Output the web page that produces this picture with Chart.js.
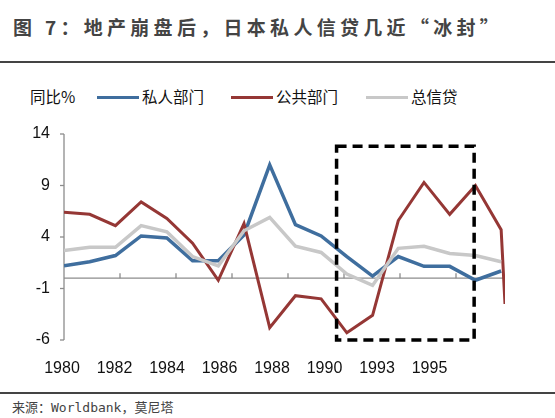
<!DOCTYPE html>
<html><head><meta charset="utf-8">
<script src="https://cdn.jsdelivr.net/npm/chart.js@4.4.0/dist/chart.umd.min.js"></script>
<style>
body{margin:0;width:555px;height:418px;position:relative;background:#fff;font-family:"Noto Sans CJK SC",sans-serif;overflow:hidden}
#t{position:absolute;left:13px;top:13px;font-size:19px;font-weight:bold;color:#444;letter-spacing:4.3px;white-space:nowrap}
.hl{position:absolute;left:0;width:555px;height:2px;background:#444}
#lg{position:absolute;top:85px;left:30px;font-size:15.5px;color:#111;white-space:nowrap}
#lg span{position:absolute;top:0}
.sw{position:absolute;top:11px;width:42px;height:3px}
#src{position:absolute;left:12px;top:397px;font-size:13px;color:#444;font-family:"DejaVu Sans Mono","Noto Sans CJK SC",monospace;white-space:nowrap}
canvas{position:absolute;left:0;top:0}
</style></head><body>
<div id="t">图 7：地产崩盘后，日本私人信贷几近“冰封”</div>
<div class="hl" style="top:61px"></div>
<div id="lg">
<span style="left:0">同比%</span>
<div class="sw" style="left:67px;background:#3f6e9e"></div><span style="left:112px">私人部门</span>
<div class="sw" style="left:201px;background:#953735"></div><span style="left:246px">公共部门</span>
<div class="sw" style="left:336px;background:#c8c8c8"></div><span style="left:381px">总信贷</span>
</div>
<div class="hl" style="top:392px"></div>
<div id="src">来源：Worldbank，莫尼塔</div>
<canvas id="c" width="555" height="418"></canvas>
<script>
const years=[1980,1981,1982,1983,1984,1985,1986,1987,1988,1989,1990,1991,1992,1993,1994,1995,1996,1997];
const tickLabels=["1980","1982","1984","1986","1988","1990","1993","1995"];
const yTicks=[14,9,4,-1,-6];
const privateSec=[1.2,1.6,2.2,4.1,3.9,1.7,1.7,4.2,11.0,5.2,4.1,2.1,0.2,2.1,1.15,1.15,-0.2,0.7];
const publicSec=[6.4,6.2,5.1,7.4,5.8,3.4,-0.2,5.3,-4.8,-1.7,-2.0,-5.3,-3.6,5.6,9.3,6.2,9.0,4.7];
const publicTail=-2.5;
const totalCredit=[2.7,3.0,3.0,5.1,4.5,2.1,1.2,4.6,5.9,3.1,2.5,0.4,-0.7,2.9,3.1,2.4,2.2,1.6];
const box={x0:10.6,x1:15.95,y0:12.8,y1:-6};
const pts=a=>a.map((v,i)=>({x:i,y:v}));
const pub=pts(publicSec);pub.push({x:17.15,y:publicTail});
const deco={id:'deco',beforeDatasetsDraw(ch){const c=ch.ctx,x=ch.scales.x,y=ch.scales.y,a=ch.chartArea;
c.save();c.strokeStyle='#8c8c8c';c.lineWidth=1.3;
c.beginPath();c.moveTo(a.left,a.top);c.lineTo(a.left,a.bottom);c.stroke();
c.fillStyle='#111';c.font='16px "Liberation Sans"';c.textAlign='right';c.textBaseline='middle';
yTicks.forEach(v=>{const p=y.getPixelForValue(v);c.beginPath();c.moveTo(a.left-4,p);c.lineTo(a.left,p);c.stroke();c.fillText(String(v),a.left-14,p);});
const z=y.getPixelForValue(0);c.beginPath();c.moveTo(a.left,z);c.lineTo(a.right,z);c.stroke();
for(let k=1;k<=8;k++){const px=a.left+k*56;if(px>a.right)break;c.beginPath();c.moveTo(px,z);c.lineTo(px,z-5);c.stroke();}
c.textAlign='center';
tickLabels.forEach((s,i)=>c.fillText(s,a.left-2+i*52.5,a.bottom+29));
c.restore();},
afterDatasetsDraw(ch){const c=ch.ctx,x=ch.scales.x,y=ch.scales.y;c.save();c.strokeStyle='#000';c.lineWidth=3.5;c.setLineDash([10,6]);
const l=x.getPixelForValue(box.x0),r=x.getPixelForValue(box.x1),t=y.getPixelForValue(box.y0),b=y.getPixelForValue(box.y1);
c.strokeRect(l,t,r-l,b-t);c.restore();}};
new Chart(document.getElementById('c'),{type:'line',
data:{datasets:[
{data:pts(totalCredit),borderColor:'#c8c8c8',borderWidth:3.5},
{data:pub,borderColor:'#953735',borderWidth:3},
{data:pts(privateSec),borderColor:'#3f6e9e',borderWidth:3.5}]},
options:{responsive:false,animation:false,devicePixelRatio:1,
layout:{padding:{left:64,right:50,top:134,bottom:78}},
elements:{point:{radius:0},line:{tension:0}},
plugins:{legend:{display:false},tooltip:{enabled:false}},
scales:{x:{type:'linear',min:0,max:17.15,display:false},y:{min:-6,max:14,display:false}}},
plugins:[deco]});
</script>
</body></html>
